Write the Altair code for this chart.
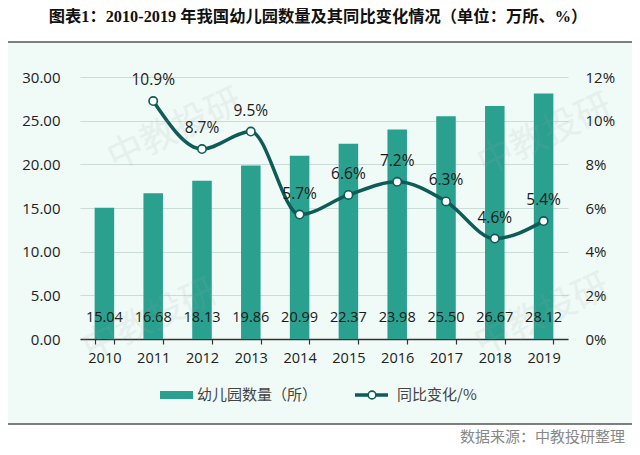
import altair as alt
import pandas as pd

years = ["2010", "2011", "2012", "2013", "2014", "2015", "2016", "2017", "2018", "2019"]
counts = [15.04, 16.68, 18.13, 19.86, 20.99, 22.37, 23.98, 25.50, 26.67, 28.12]
yoy = [None, 10.9, 8.7, 9.5, 5.7, 6.6, 7.2, 6.3, 4.6, 5.4]
left_ticks = [0, 5, 10, 15, 20, 25, 30]
right_ticks = [0, 2, 4, 6, 8, 10, 12]

title_text = "图表1：2010-2019 年我国幼儿园数量及其同比变化情况（单位：万所、%）"
source_text = "数据来源：中教投研整理"
legend_bar = "幼儿园数量（所）"
legend_line = "同比变化/%"
watermark = "中教投研"

BAR = "#2aa08f"
LINE = "#0e5c58"
BG = "#f0faf6"
FONT = "Open Sans"
CJK = "Noto Sans CJK SC"

df = pd.DataFrame({"year": years, "count": counts, "yoy": yoy})
df["count_label"] = [f"{v:.2f}" for v in counts]
df["yoy_label"] = [("" if v is None else f"{v:.1f}%") for v in yoy]

W, H = 488, 262

x_enc = alt.X(
    "year:N",
    title=None,
    scale=alt.Scale(paddingInner=0.6, paddingOuter=0.3),
    axis=alt.Axis(
        labelAngle=0, domainColor="#333333", domainWidth=1.5, tickColor="#333333",
        tickWidth=1.2, tickSize=5, tickBand="extent", labelPadding=7, labelFontSize=14.5,
        labelFont=FONT, labelColor="#222222", grid=False,
    ),
)

base = alt.Chart(df)

bars = base.mark_bar(color=BAR).encode(
    x=x_enc,
    y=alt.Y(
        "count:Q",
        title=None,
        scale=alt.Scale(domain=[0, 30], nice=False),
        axis=alt.Axis(
            orient="left", values=left_ticks, format=".2f", domain=False, ticks=False,
            grid=True, gridColor="#cbdcd6", gridWidth=1, labelPadding=20,
            labelFontSize=15, labelFont=FONT, labelColor="#222222",
        ),
    ),
)
bar_labels = base.mark_text(fontSize=14.5, font=FONT, color="#1a1a1a", baseline="middle").encode(
    x=x_enc, y=alt.value(H - 21), text="count_label:N"
)

line_src = base.transform_filter("datum.yoy != null")
y_right = alt.Y(
    "yoy:Q",
    title=None,
    scale=alt.Scale(domain=[0, 12], nice=False),
    axis=alt.Axis(
        orient="right", values=right_ticks, labelExpr="datum.value + '%'", domain=False,
        ticks=False, grid=False, labelPadding=17, labelFontSize=15, labelFont=FONT,
        labelColor="#222222",
    ),
)
line = line_src.mark_line(color=LINE, strokeWidth=3.5, interpolate="monotone").encode(x=x_enc, y=y_right)
pts = line_src.mark_point(
    shape="circle", fill="white", fillOpacity=1, stroke=LINE, strokeWidth=1.6, size=70, opacity=1
).encode(x=x_enc, y=y_right)
line_labels = line_src.mark_text(dy=-21, fontSize=15.5, font=FONT, color="#1a1a1a").encode(
    x=x_enc, y=y_right, text="yoy_label:N"
)

one = alt.Chart(pd.DataFrame({"t": [title_text], "s": [source_text], "a": [legend_bar],
                              "b": [legend_line], "w": [watermark]}))

white_top = one.mark_rect(color="white").encode(
    x=alt.value(-72), x2=alt.value(552), y=alt.value(-69), y2=alt.value(-35)
)
white_bot = one.mark_rect(color="white").encode(
    x=alt.value(-72), x2=alt.value(552), y=alt.value(347), y2=alt.value(370)
)
sep_top = one.mark_rule(color="#555555", strokeWidth=1.5).encode(
    x=alt.value(-72), x2=alt.value(552), y=alt.value(-35)
)
sep_bot = one.mark_rule(color="#555555", strokeWidth=1.5).encode(
    x=alt.value(-72), x2=alt.value(552), y=alt.value(347)
)
title = one.mark_text(
    fontSize=16.3, fontWeight="bold", font="Liberation Serif, " + CJK, color="#111111",
    align="center", baseline="middle",
).encode(x=alt.value(238), y=alt.value(-60), text="t:N")
source = one.mark_text(
    fontSize=15, font=CJK, color="#888888", align="right", baseline="middle"
).encode(x=alt.value(545), y=alt.value(360), text="s:N")

wm_layers = []
for wx, wy in [(95, 53), (465, 58), (70, 243), (462, 238)]:
    wm_layers.append(
        one.mark_text(fontSize=36, fontWeight="normal", font=CJK, color="#9aa8a4", opacity=0.12,
                      angle=335, align="center", baseline="middle").encode(
            x=alt.value(wx), y=alt.value(wy), text="w:N")
    )

leg_rect = one.mark_rect(color=BAR).encode(
    x=alt.value(80), x2=alt.value(113), y=alt.value(314), y2=alt.value(322)
)
leg_text1 = one.mark_text(fontSize=15, font=CJK, color="#444444", align="left", baseline="middle").encode(
    x=alt.value(117), y=alt.value(318), text="a:N"
)
leg_rule = one.mark_rule(color=LINE, strokeWidth=3.5).encode(
    x=alt.value(275), x2=alt.value(308), y=alt.value(318)
)
leg_pt = one.mark_point(
    shape="circle", fill="white", fillOpacity=1, stroke=LINE, strokeWidth=1.6, size=60, opacity=1
).encode(x=alt.value(292), y=alt.value(318))
leg_text2 = one.mark_text(fontSize=15, font=CJK, color="#444444", align="left", baseline="middle").encode(
    x=alt.value(317), y=alt.value(318), text="b:N"
)

left_group = alt.layer(bars, bar_labels)
right_group = alt.layer(line, pts, line_labels)

chart = alt.layer(
    left_group, right_group, *wm_layers,
    white_top, white_bot, sep_top, sep_bot, title, source,
    leg_rect, leg_text1, leg_rule, leg_pt, leg_text2,
).resolve_scale(y="independent").properties(
    width=W, height=H,
    autosize=alt.AutoSizeParams(type="none"),
    padding={"left": 72, "top": 69, "right": 64, "bottom": 108},
).configure(background=BG).configure_view(stroke=None)

chart.save("out.html", embed_options={"renderer": "svg", "actions": False})
